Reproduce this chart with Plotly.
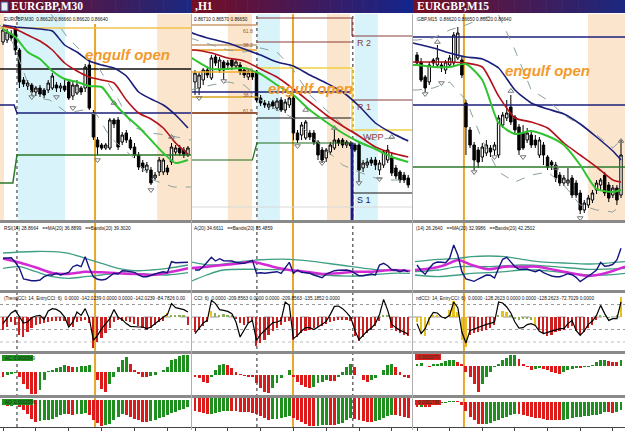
import numpy as np
import plotly.graph_objects as go

W, H = 625, 435

# ======================= DATA =======================
# Candles in MetaTrader points (1 point = 0.00001)
M30_OPEN = [86748,86750,86756,86762,86740,86710,86704,86705,86698,86702,86700,86700,86702,86705,86702,86704,86708,86694,86697,86702,86702,86725,86677,86650,86645,86642,86642,86670,86670,86648,86657,86650,86643,86635,86627,86620,86620,86612,86618,86618,86622,86628,86638,86642,86640,86635]
M30_HIGH = [86764,86761,86760,86764,86742,86713,86710,86707,86704,86705,86702,86710,86717,86708,86707,86710,86710,86708,86710,86704,86726,86730,86680,86653,86647,86647,86672,86672,86673,86658,86660,86653,86647,86638,86630,86628,86623,86618,86633,86632,86625,86647,86645,86645,86643,86644]
M30_LOW = [86745,86747,86749,86735,86702,86703,86700,86695,86694,86693,86692,86697,86700,86698,86698,86698,86690,86690,86695,86695,86698,86680,86650,86635,86640,86640,86640,86662,86640,86645,86647,86640,86632,86620,86618,86617,86605,86610,86614,86615,86615,86625,86635,86634,86632,86633]
M30_CLOSE = [86760,86758,86752,86740,86708,86706,86707,86698,86702,86696,86695,86707,86714,86702,86704,86700,86692,86705,86705,86698,86723,86682,86653,86643,86642,86645,86670,86666,86643,86655,86650,86642,86635,86623,86622,86625,86607,86615,86630,86630,86618,86643,86642,86637,86635,86642]

H1_OPEN = [86748,86742,86750,86760,86752,86773,86760,86768,86767,86770,86764,86765,86760,86753,86757,86758,86732,86727,86723,86728,86722,86730,86720,86725,86732,86697,86695,86692,86697,86697,86688,86680,86672,86678,86682,86690,86690,86685,86687,86685,86685,86662,86665,86670,86670,86660,86665,86670,86672,86662,86658,86655,86652]
H1_HIGH = [86760,86758,86762,86762,86775,86775,86773,86770,86770,86772,86770,86768,86763,86760,86760,86760,86735,86730,86729,86730,86732,86733,86731,86735,86734,86700,86708,86710,86700,86700,86690,86683,86682,86688,86700,86692,86692,86690,86689,86687,86687,86670,86672,86673,86673,86670,86680,86685,86678,86665,86660,86658,86655]
H1_LOW = [86735,86735,86745,86752,86750,86764,86757,86750,86762,86760,86761,86755,86752,86750,86750,86728,86724,86722,86720,86721,86719,86718,86717,86722,86690,86687,86690,86690,86690,86685,86670,86667,86668,86675,86680,86684,86682,86682,86681,86678,86648,86658,86662,86664,86660,86655,86662,86667,86654,86651,86647,86647,86642]
H1_CLOSE = [86757,86755,86760,86755,86772,86767,86770,86760,86765,86764,86768,86758,86755,86757,86753,86730,86727,86725,86726,86724,86729,86720,86728,86732,86697,86690,86705,86708,86693,86688,86675,86670,86680,86685,86690,86687,86685,86688,86684,86680,86660,86667,86668,86667,86665,86667,86678,86680,86657,86654,86650,86650,86645]

M15_OPEN = [86775,86768,86753,86748,86770,86765,86765,86760,86765,86767,86772,86770,86727,86700,86685,86680,86673,86677,86682,86680,86675,86705,86712,86723,86713,86703,86697,86690,86695,86690,86675,86685,86673,86668,86665,86655,86647,86647,86652,86647,86637,86620,86625,86630,86640,86645,86655,86645,86635,86642,86635]
M15_HIGH = [86778,86772,86755,86768,86772,86785,86768,86770,86775,86798,86803,86773,86730,86703,86688,86683,86687,86690,86685,86688,86715,86718,86730,86735,86715,86706,86705,86702,86700,86695,86693,86688,86675,86670,86668,86658,86655,86662,86655,86650,86640,86630,86635,86640,86650,86652,86658,86648,86645,86645,86690]
M15_LOW = [86764,86748,86738,86745,86764,86762,86758,86756,86762,86764,86770,86752,86675,86682,86660,86662,86668,86674,86673,86675,86672,86702,86709,86705,86695,86675,86680,86687,86682,86682,86672,86665,86660,86660,86648,86644,86644,86644,86632,86632,86616,86617,86622,86627,86636,86640,86634,86628,86632,86625,86632]
M15_CLOSE = [86767,86750,86742,86765,86767,86772,86762,86768,86772,86795,86797,86755,86703,86685,86670,86668,86683,86685,86678,86685,86712,86715,86717,86708,86700,86680,86682,86697,86685,86685,86690,86675,86663,86665,86652,86647,86652,86650,86635,86635,86620,86627,86632,86637,86647,86650,86637,86632,86642,86630,86675]

# Moving averages (slow = blue, mid = red, fast = green) sampled at bar index
M30_MA_IDX = [0,3,6,9,12,15,18,21,24,27,30,33,36,39,42,45]
M30_MA_SLOW = [86765,86763,86762,86761,86759,86745,86738,86729,86725,86722,86714,86698,86691,86685,86675,86662]
M30_MA_MID = [86764,86761,86755,86749,86740,86727,86719,86713,86710,86707,86690,86677,86671,86662,86647,86636]
M30_MA_FAST = [86761,86753,86738,86731,86719,86711,86708,86704,86703,86687,86674,86663,86650,86637,86627,86630]
M30_BBU_IDX = [9,12.2,15.6,20.4,23.6,27.7,31.6,35.8,39.9,45.7]
M30_BBU = [86790,86773,86753,86733,86720,86693,86663,86657,86655,86650]
M30_BBL_IDX = [-0.7,2.4,7.3,11.4,15.6,19.5,22.9,26,31.6,36.5,41.4,45.7]
M30_BBL = [86765,86747,86693,86690,86677,86680,86675,86653,86633,86610,86603,86603]

H1_MA_IDX = [-1.2,0,4,8,12,16,20,24,28,32,36,40,44,48,52]
H1_MA_SLOW = [86798,86796,86791,86787,86781,86775,86768,86764,86755,86747,86738,86724,86707,86697,86689]
H1_MA_MID = [86780,86780,86777,86772,86769,86761,86753,86741,86728,86715,86704,86694,86683,86677,86673]
H1_MA_FAST = [86773,86770,86761,86761,86762,86756,86745,86735,86720,86708,86697,86688,86681,86673,86668]
H1_BB_IDX = [-1.2,4,8,12,16,20,24,28,32,36,40,44,48,52]
H1_BBU = [86792,86785,86780,86778,86782,86778,86760,86735,86720,86705,86695,86690,86692,86690]
H1_BBL = [86740,86745,86748,86745,86730,86720,86712,86695,86680,86665,86658,86652,86650,86650]

M15_MA_IDX = [-1,0,4,8,12,16,20,24,28,32,36,40,44,48,50]
M15_MA_SLOW = [86787,86786,86782,86777,86773,86771,86762,86740,86727,86721,86716,86706,86693,86679,86670]
M15_MA_MID = [86768,86768,86768,86768,86767,86763,86734,86712,86708,86702,86687,86675,86663,86650,86648]
M15_MA_FAST = [86765,86765,86763,86763,86766,86750,86707,86696,86699,86694,86685,86665,86641,86638,86640]
M15_BBU = [86790,86790,86792,86800,86805,86812,86815,86780,86740,86730,86715,86705,86695,86682,86690]
M15_BBL = [86740,86740,86742,86748,86730,86690,86658,86648,86655,86658,86645,86625,86620,86618,86625]

# Fractals (bar index, points)
M30_FR_DN = ([7, 13, 17, 23, 36], [86693, 86693, 86682, 86630, 86600])
M30_FR_UP = ([27, 41], [86687, 86653])
H1_FR_DN = ([1, 7, 25, 31, 40, 45], [86732, 86749, 86684, 86667, 86647, 86651])
H1_FR_UP = ([27, 34, 48], [86720, 86702, 86693])
M15_FR_DN = ([2, 6, 14, 19, 26, 40], [86736, 86747, 86658, 86673, 86673, 86612])
M15_FR_UP = ([5, 23, 34, 50], [86788, 86739, 86662, 86689])

# Pivot / fibo levels (points)
M30_LVL_FIBO = 86762
M30_LVL_DAY = 86721
M30_LVL_PP = [86685, 86677]
M30_LVL_S = [86607, 86635]
H1_FIBO = [86805, 86785, 86780, 86758, 86733, 86717]
H1_FIBO_LABELS = ["61.8", "38.2", "", "0.0", "38.2", "61.8"]
H1_DAY_LVLS = [86812, 86788, 86762, 86712, 86687]
H1_NAVY = 86738
H1_GREEN_OLD = 86670
H1_NEW_LVLS = [86794, 86730, 86700, 86637]
H1_NEW_LABELS = ["R 2", "R 1", "WPP", "S 1"]
H1_GRID = 86623
M15_LVLS = [86793, 86725, 86663]

# RSI(14) with MA(20) and bands(20)
M30_RSI = [41.7,41.7,42.3,37.7,31.7,21,20,19.3,19.3,20,23.3,25,25,26.7,25,26.7,27.7,33.3,35,33.3,43.3,31.7,23.3,20.7,20,20.7,24,26.7,26,29.3,29,28.3,27.7,25,23.3,23.3,24.3,26,27.3,28.3,27.3,38.3,37.3,37.3,37,37.7]
M30_RSI_IDX = [0,4,8,12,16,20,24,28,32,36,40,45]
M30_RSI_MA = [41.5,37.5,32.5,27,26,28.3,27.7,26.7,26,25,27.3,31.7]
M30_RSI_BU = [47,48,48.5,48.3,46.7,41.7,36.7,31.7,29.3,30,31.7,35]
M30_RSI_BL = [31.7,33.3,28.3,23.3,21.7,23.3,25,26.7,26.7,25.7,25,27.3]

H1_RSI = [30,30,33.3,38.3,42.7,39,41.3,39.3,39.3,39,37.7,36.7,36.7,38,39.7,26.7,27.3,26.7,27.3,27.7,28.3,26.7,32.7,37.7,26.7,30,27.7,27.3,26.7,25,24,22.3,26,28,29.3,29.7,30,30,29,26.7,24.3,24.3,25,26,25,35,36.7,34.3,30,30,28.3,30,28.3]
H1_RSI_MA_IDX = [-1.2,3,7,11,14,19,23,27,31,35,39,43,48,52.5]
H1_RSI_MA = [31.7,33.3,35,36.7,38.3,33.3,30,28.3,26,26.7,28.3,28.3,30,29]
H1_RSI_BU_IDX = [-1.2,3.7,11,15,23.2,27.2,35.4,43.5,52.4]
H1_RSI_BU = [38.3,35,38.3,40,40.7,39.3,35,30.7,29.3]
H1_RSI_BL_IDX = [-1.2,2.8,6.9,15,23.2,31.3,39.4,47.6,52.4]
H1_RSI_BL = [18.3,25,30,30.7,30,25,24,26.7,26.7]

M15_RSI = [35,29.3,25.7,31.7,36.3,38,37.7,37.3,41.7,55,45,28.3,21,20,18.7,21,23.3,25,24.7,22,31.7,40.7,42.7,37.7,33.3,30.7,31,31,29.3,28.3,30,27.3,25.7,24,23.3,23.3,24.7,26.3,25.3,22.7,18.3,21,24.3,26.7,30,37.7,33.7,34.3,35.7,40,51.7]
M15_RSI_MA_IDX = [-0.5,3.6,6.9,10.1,13.4,17.5,21.6,25.7,29.7,33.8,37.9,42,46.1,51]
M15_RSI_MA = [30,31.7,35,40,35,30.7,33.3,33.3,33.3,30,26.7,24,26.7,33.3]
M15_RSI_B_IDX = [-0.5,5.2,10.1,13.4,17.5,21.6,25.7,29.7,33.8,37.9,42,46.1,51]
M15_RSI_BU = [38.3,40.7,41.7,43.3,44,43.3,40.7,38.3,37.3,36.7,36,36.7,38.3]
M15_RSI_BL = [25,23.3,25,26.7,27.3,28.3,30,30,28.3,26.7,25,25,26.7]
M15_RSI_BM_IDX = [-0.5,5.2,10.1,17.5,25.7,33.8,42,51]
M15_RSI_BM = [28.3,30,33.3,33.3,35,33.3,30.7,31.7]

# TrendCCI(14) line and EntryCCI(6) histogram
M30_CCI = [-53,-13,32,53,5,-48,-40,-5,8,13,-19,48,67,61,40,0,-80,-40,40,13,67,-13,-187,-147,-93,-53,-13,59,0,-21,-53,-75,-80,-80,-80,-93,-80,-53,-27,0,19,107,75,64,59,40]
M30_CCI_HIST = [-107,-80,-40,-60,-140,-160,-120,-90,-60,-55,-50,-40,-35,-30,-30,-35,-60,-80,-40,-30,-25,-45,-250,-200,-170,-130,-90,-40,-25,-30,-30,-40,-55,-75,-90,-100,-85,-60,-40,-30,30,15,20,15,10,-60]
H1_CCI = [-133,-93,-48,-27,133,107,59,53,45,27,-40,-160,-101,-48,-27,-187,-139,-107,-75,-45,-40,-27,120,93,-173,-147,-112,-85,-85,-101,-80,-59,-35,21,85,88,67,35,-5,-107,-181,-147,-112,-88,-53,19,141,53,-59,-85,-107,-120,-139]
H1_CCI_HIST = [-120,-100,-70,-40,50,30,20,25,20,10,-15,-45,-60,-45,-30,-230,-210,-180,-140,-110,-90,-60,-40,-30,-180,-160,-130,-110,-100,-90,-80,-70,-55,-40,-30,-25,-20,-20,-30,-150,-190,-160,-130,-100,-70,-30,15,10,-90,-110,-125,-140,-150]
M15_CCI = [-53,-133,-93,-13,37,32,0,-8,13,120,75,-120,-208,-107,-96,-83,-69,-59,-51,-40,120,112,80,32,-40,-88,-85,-61,-53,-67,-115,-133,-123,-115,-104,-93,-93,-53,-27,-107,-147,-112,-59,-32,13,93,27,-27,-13,-13,120]
M15_CCI_HIST = [-40,-120,-150,-60,20,15,5,-10,60,130,40,-180,-240,-140,-130,-120,-110,-100,-90,-60,20,50,40,10,-10,-20,-15,-10,-20,-60,-100,-130,-150,-140,-120,-110,-105,-90,-70,-110,-140,-120,-90,-60,-20,10,5,-5,0,10,160]
M30_CCI_YELLOW = [40]
M30_CCI_GREEN = [41, 42, 43, 44]
H1_CCI_YELLOW = [4]
H1_CCI_GREEN = [5, 6, 7, 8, 9, 46, 47]
M15_CCI_YELLOW = [0, 1, 2, 3, 4, 5, 8, 9, 10, 11, 12, 21, 22, 29, 50]
M15_CCI_GREEN = [6, 7, 20, 23, 24, 25, 26, 27, 28, 45, 46, 47, 48, 49]

# Accelerator (AC) and Awesome (AO) oscillators, in points
M30_AC = [-5,-3.3,-2.3,-0.5,-5,-11.7,-16.7,-21.7,-22.3,-18.3,-8.3,0.5,2.3,4,5,6.7,5.7,5,5.3,5.7,6.3,6.7,0,-8.3,-16.7,-20,-11.7,-5,5,11.7,15,8.3,1.7,-1.7,-5,-5.3,-4.3,-3.3,0,2.3,5,11.7,13.3,15.7,16.7,16.8]
M30_AO = [-5,-6,-5.5,-5,-7,-10,-14,-19,-21.5,-21,-20,-19.5,-18.5,-17,-15,-13.5,-14,-14.5,-14,-13.5,-13,-15,-20,-23,-25.5,-25,-23.5,-20,-17,-13.5,-15,-16.5,-18.5,-20,-21.5,-22,-21,-20,-18,-16.5,-15,-13,-11.5,-10,-8.5,-7]
H1_AC = [-1.7,-3.3,-6.7,-8.3,-1.7,5,10,11,10,6.7,3.3,1,-1,-1.7,-2.3,-8.3,-13.3,-16.7,-18.3,-13.3,-8.3,-3.3,0,5,-1.7,-6.7,-10,-11.7,-13.3,-11.7,-8.3,-6.7,-5,-5.5,-6,-1.7,3.3,8.3,11,8.3,0,-5,-6.7,-5,-3.3,0,5,10,11,8.3,3.3,-1.7,-3.3]
H1_AO = [-13,-14,-15,-16,-15.5,-15,-14,-13,-12.5,-12.7,-13,-13.3,-13.6,-14,-14.5,-16,-18,-20,-21.5,-21,-20.5,-20,-19,-18,-19.5,-22,-24,-26,-27.5,-28,-27.5,-27,-26.5,-26.8,-27.2,-26,-24.5,-22,-20,-20.5,-21.5,-22.5,-23.5,-24,-23,-21.5,-19.5,-18,-16.5,-17,-18,-19,-20]
M15_AC = [2.3,3,0,-0.3,1.3,2.3,3,5,5.7,5.8,4,1.7,-6,-11,-17.7,-26,-17.7,-11,-6,-1,2.3,5.7,8.3,10.7,11.3,7.3,2.3,-1,-3.7,-2.7,-2,-2.7,-3.7,-6,-7,-7.7,-6,-4.3,-2.7,-1.3,-1.6,-1,-0.3,0.7,4,5.7,6.3,5,4,3.7,5.7]
M15_AO = [-4.7,-4.5,-4.8,-5,-3,-1.5,-0.7,-0.3,0.3,0.5,0.3,-3,-9,-15,-18,-21.5,-22,-21.5,-20.5,-19,-17.5,-16,-14.5,-13,-11.5,-11.8,-12.5,-13.5,-14.5,-15.5,-16.3,-17,-17.5,-18,-18.2,-18.3,-17.5,-16.5,-15.5,-15,-14.8,-14.3,-13.5,-13,-12.5,-11.5,-10,-10.3,-10.5,-9.5,-8]

# Text
TITLES = ["EURGBP,M30", ",H1", "EURGBP,M15"]
PRICE_HDR = ["EURGBP,M30  0.86620 0.86660 0.86620 0.86640", "0.86710 0.86570 0.86650", ":GBP,M15  0.86620 0.86650 0.86620 0.86640"]
RSI_HDR = ["RSI(14) 28.8664   ==MA(20) 36.8899   ==Bands(20) 39.3020", "A(20) 34.6611   ==Bands(20) 35.4859", "(14) 26.2640   ==MA(20) 32.9986   ==Bands(20) 42.2502"]
CCI_HDR = ["(TrendCCI: 14, EntryCCI: 6)  0.0000 -142.0239 0.0000 0.0000 -142.0239 -84.7826 0.00",
           "CCI: 6)  0.0000 -209.8563 0.0000 0.0000 -209.8563 -135.1852 0.0000",
           "ndCCI: 14, EntryCCI: 6)  0.0000 -128.2623 0.0000 0.0000 -128.2623 -72.7029 0.0000"]
SIGNAL_TEXT = "engulf open"

# Sessions / separators / signal bar (bar-index units)
M30_SESS = [(-0.8, 0.24, "o"), (3.65, 15.1, "c"), (37.5, 45.9, "o")]
H1_SESS = [(8.0, 13.9, "o"), (15.1, 20.7, "c"), (32.2, 37.8, "o"), (39.0, 44.6, "c")]
M15_SESS = [(41.9, 51.3, "o")]
M30_DAYSEP = [3.4]
H1_DAYSEP = [15.1, 38.5]
M15_DAYSEP = []
SIGNAL_BAR = [22.4, 23.9, 11.5]

# ======================= LAYOUT / FIGURE =======================
NAVY, RED, LIME = "#1b1f7a", "#b3121b", "#2fc42f"
BANDC = "#8aa09c"
ORANGE_SH, CYAN_SH = "#fbe6cd", "#d8f4fa"
SIG = "#e9a62a"
HDR_FONT = dict(family="Liberation Sans", size=4.7, color="#111")

COLS = [dict(x0=0, x1=191, first=3, step=4.11),
        dict(x0=192, x1=412, first=195, step=4.1),
        dict(x0=413, x1=625, first=417, step=4.08)]
ROWS = [(14, 220), (223, 290), (293, 351), (354, 395), (398, 427)]
YR = [
    [[0.86570, 0.86776], [10, 77], [-272, 192], [-23, 18], [-27, 2]],
    [[0.86610, 0.86816], [10, 77], [-272, 192], [-20, 21], [-29, 0.5]],
    [[0.86610, 0.86816], [10, 77], [-272, 192], [-29, 12], [-25, 4]],
]


def P(a):
    return np.asarray(a, dtype=float) / 1e5


def nm(k, letter):
    return letter if k == 1 else f"{letter}{k}"


def paper_x(x):
    return x / W


def paper_y(y):
    return 1 - y / H


fig = go.Figure()
axes = {}
shapes = []
ann = []

for c, col in enumerate(COLS):
    xr = [(col["x0"] - col["first"]) / col["step"], (col["x1"] - col["first"]) / col["step"]]
    for r, (top, bot) in enumerate(ROWS):
        k = c * 5 + r + 1
        xa = dict(domain=[col["x0"] / W, col["x1"] / W], range=xr, visible=False,
                  fixedrange=True, anchor=nm(k, "y"), showgrid=False, zeroline=False)
        if r == 0:
            xa["rangeslider"] = dict(visible=False)
        if r == 4:
            xa.update(visible=True, showline=True, linecolor="#444", linewidth=1,
                      ticks="outside", ticklen=3, tickcolor="#444", tick0=0, dtick=8,
                      showticklabels=False)
        ya = dict(domain=[1 - bot / H, 1 - top / H], range=YR[c][r], visible=False,
                  fixedrange=True, anchor=nm(k, "x"), showgrid=False, zeroline=False)
        axes["xaxis" if k == 1 else f"xaxis{k}"] = xa
        axes["yaxis" if k == 1 else f"yaxis{k}"] = ya


def add(tr, c, r):
    k = c * 5 + r + 1
    tr.update(xaxis=nm(k, "x"), yaxis=nm(k, "y"), showlegend=False, hoverinfo="skip")
    fig.add_trace(tr)


def hline(c, xs, ys, color, width=1.2, dash="solid"):
    add(go.Scatter(x=xs, y=P(ys), mode="lines", line=dict(color=color, width=width, dash=dash)), c, 0)


DATA = [
    dict(o=M30_OPEN, h=M30_HIGH, l=M30_LOW, cl=M30_CLOSE, mai=M30_MA_IDX,
         ma=[M30_MA_SLOW, M30_MA_MID, M30_MA_FAST],
         bbu=(M30_BBU_IDX, M30_BBU), bbl=(M30_BBL_IDX, M30_BBL),
         frd=M30_FR_DN, fru=M30_FR_UP,
         rsi=M30_RSI, rsima=(M30_RSI_IDX, M30_RSI_MA),
         rsib=[(M30_RSI_IDX, M30_RSI_BU), (M30_RSI_IDX, M30_RSI_BL)],
         cci=M30_CCI, ccih=M30_CCI_HIST, cy=M30_CCI_YELLOW, cg=M30_CCI_GREEN,
         ac=M30_AC, ao=M30_AO, sess=M30_SESS, days=M30_DAYSEP),
    dict(o=H1_OPEN, h=H1_HIGH, l=H1_LOW, cl=H1_CLOSE, mai=H1_MA_IDX,
         ma=[H1_MA_SLOW, H1_MA_MID, H1_MA_FAST],
         bbu=(H1_BB_IDX, H1_BBU), bbl=(H1_BB_IDX, H1_BBL),
         frd=H1_FR_DN, fru=H1_FR_UP,
         rsi=H1_RSI, rsima=(H1_RSI_MA_IDX, H1_RSI_MA),
         rsib=[(H1_RSI_BU_IDX, H1_RSI_BU), (H1_RSI_BL_IDX, H1_RSI_BL)],
         cci=H1_CCI, ccih=H1_CCI_HIST, cy=H1_CCI_YELLOW, cg=H1_CCI_GREEN,
         ac=H1_AC, ao=H1_AO, sess=H1_SESS, days=H1_DAYSEP),
    dict(o=M15_OPEN, h=M15_HIGH, l=M15_LOW, cl=M15_CLOSE, mai=M15_MA_IDX,
         ma=[M15_MA_SLOW, M15_MA_MID, M15_MA_FAST],
         bbu=(M15_MA_IDX, M15_BBU), bbl=(M15_MA_IDX, M15_BBL),
         frd=M15_FR_DN, fru=M15_FR_UP,
         rsi=M15_RSI, rsima=(M15_RSI_MA_IDX, M15_RSI_MA),
         rsib=[(M15_RSI_B_IDX, M15_RSI_BU), (M15_RSI_B_IDX, M15_RSI_BL), (M15_RSI_BM_IDX, M15_RSI_BM)],
         cci=M15_CCI, ccih=M15_CCI_HIST, cy=M15_CCI_YELLOW, cg=M15_CCI_GREEN,
         ac=M15_AC, ao=M15_AO, sess=M15_SESS, days=M15_DAYSEP),
]

for c, D in enumerate(DATA):
    col = COLS[c]
    xr = axes["xaxis" if c == 0 else f"xaxis{c*5+1}"]["range"]
    kp = c * 5 + 1
    n = len(D["o"])
    idx = np.arange(n)
    for (a, b, t) in D["sess"]:
        shapes.append(dict(type="rect", xref=nm(kp, "x"), yref=nm(kp, "y") + " domain",
                           x0=a, x1=b, y0=0, y1=1, fillcolor=ORANGE_SH if t == "o" else CYAN_SH,
                           line=dict(width=0), layer="below"))
    for d in D["days"]:
        shapes.append(dict(type="line", xref=nm(kp, "x"), yref="paper", x0=d, x1=d,
                           y0=paper_y(427), y1=paper_y(14), line=dict(color="#222", width=1, dash="dot"),
                           layer="below"))
    shapes.append(dict(type="line", xref=nm(kp, "x"), yref="paper", x0=SIGNAL_BAR[c], x1=SIGNAL_BAR[c],
                       y0=paper_y(427), y1=paper_y(24 if c == 0 else 14),
                       line=dict(color=SIG, width=2), layer="below"))

    # ---- levels ----
    if c == 0:
        hline(c, [xr[0], xr[1]], [M30_LVL_FIBO] * 2, "#f2c24a", 1.3)
        hline(c, [xr[0], xr[1]], [M30_LVL_DAY] * 2, "#111", 1.3)
        hline(c, [xr[0], 2.7, 3.4, xr[1]], [M30_LVL_PP[0]] * 2 + [M30_LVL_PP[1]] * 2, NAVY, 1.5)
        hline(c, [xr[0], 2.4, 3.4, xr[1]], [M30_LVL_S[0]] * 2 + [M30_LVL_S[1]] * 2, "#2a7a2a", 1.5)
    elif c == 1:
        fib_cols = ["#c99a6c", "#c99a6c", "#f0a020", "#f0b030", "#d9a520", "#9a5a3a"]
        for lv, fc in zip(H1_FIBO, fib_cols):
            hline(c, [xr[0], 15.1], [lv, lv], fc, 1.3 if fc != "#9a5a3a" else 2)
        day_cols = ["#8c3c3c", "#8c3c3c", "#f2d040", "#111", "#1f6a1f"]
        for lv, dc in zip(H1_DAY_LVLS, day_cols):
            hline(c, [15.1, 38.3], [lv, lv], dc, 1.5 if dc == "#f2d040" else 1.2)
        hline(c, [xr[0], 37.8], [H1_NAVY] * 2, NAVY, 1.5)
        hline(c, [xr[0], 14.0, 15.1], [H1_GREEN_OLD, H1_GREEN_OLD, H1_DAY_LVLS[4]], "#1f6a1f", 1.2)
        new_cols = ["#8c3c3c", "#8c3c3c", "#f2d040", "#111"]
        for lv, dc in zip(H1_NEW_LVLS, new_cols):
            hline(c, [38.3, xr[1]], [lv, lv], dc, 1.5 if dc == "#f2d040" else 1.2)
        hline(c, [38.3, 38.3], [H1_DAY_LVLS[0], H1_NEW_LVLS[0]], "#8c3c3c", 1.2)
        hline(c, [38.3, 38.3], [H1_DAY_LVLS[2], H1_NEW_LVLS[2]], "#f2d040", 1.5)
        hline(c, [38.3, 38.3], [H1_DAY_LVLS[4], 86600], "#1a1a80", 3)
        hline(c, [xr[0], xr[1]], [H1_GRID] * 2, "#d8d8d8", 1)
    else:
        for lv, lc in zip(M15_LVLS, [NAVY, NAVY, "#2a7a2a"]):
            hline(c, [xr[0], xr[1]], [lv, lv], lc, 1.4)

    add(go.Scatter(x=D["bbu"][0], y=P(D["bbu"][1]), mode="lines",
                   line=dict(color=BANDC, width=1, dash="dash")), c, 0)
    add(go.Scatter(x=D["bbl"][0], y=P(D["bbl"][1]), mode="lines",
                   line=dict(color=BANDC, width=1, dash="dash")), c, 0)
    add(go.Candlestick(x=idx, open=P(D["o"]), high=P(D["h"]), low=P(D["l"]), close=P(D["cl"]),
                       increasing=dict(line=dict(color="#000", width=1), fillcolor="#ffffff"),
                       decreasing=dict(line=dict(color="#000", width=1), fillcolor="#000000"),
                       whiskerwidth=0), c, 0)
    for arr, colr, wd in zip(D["ma"], [NAVY, RED, LIME], [1.6, 1.6, 2]):
        add(go.Scatter(x=D["mai"], y=P(arr), mode="lines",
                       line=dict(color=colr, width=wd, shape="spline", smoothing=0.6)), c, 0)
    # fractal arrows
    add(go.Scatter(x=D["frd"][0], y=P(D["frd"][1]), mode="markers",
                   marker=dict(symbol="triangle-down-open", size=5, color="#777", line=dict(width=1))), c, 0)
    add(go.Scatter(x=D["fru"][0], y=P(D["fru"][1]), mode="markers",
                   marker=dict(symbol="triangle-up-open", size=5, color="#777", line=dict(width=1))), c, 0)

    # ---- RSI ----
    for bi, bv in D["rsib"]:
        add(go.Scatter(x=bi, y=bv, mode="lines",
                       line=dict(color="#3f9f84", width=1.3, shape="spline", smoothing=0.8)), c, 1)
    add(go.Scatter(x=D["rsima"][0], y=D["rsima"][1], mode="lines",
                   line=dict(color="#d42ad4", width=2.5, shape="spline", smoothing=0.6)), c, 1)
    add(go.Scatter(x=idx, y=D["rsi"], mode="lines", line=dict(color="#15157f", width=1.4)), c, 1)

    # ---- CCI ----
    kc = c * 5 + 3
    for lv, ds, colr in [(100, "dot", "#9a9a9a"), (0, "dash", "#9a9a9a"), (-100, "dot", "#9a9a9a"), (-200, "dot", "#c0c0c0")]:
        shapes.append(dict(type="line", xref=nm(kc, "x") + " domain", yref=nm(kc, "y"),
                           x0=0, x1=1, y0=lv, y1=lv, line=dict(color=colr, width=1, dash=ds), layer="below"))
    hcol = []
    for i in range(n):
        if i in D["cy"]:
            hcol.append("#e8c21c")
        elif i in D["cg"]:
            hcol.append("#8fae5a")
        else:
            hcol.append("#cc2020")
    add(go.Bar(x=idx, y=D["ccih"], width=0.42, marker=dict(color=hcol, line=dict(width=0))), c, 2)
    add(go.Scatter(x=idx, y=D["cci"], mode="lines", line=dict(color="#000", width=1.2)), c, 2)

    # ---- AC / AO ----
    for r, key in [(3, "ac"), (4, "ao")]:
        v = D[key]
        colors = []
        for i in range(n):
            up = v[i] >= v[i - 1] if i > 0 else v[0] >= 0
            colors.append("#1e8f1e" if up else "#dd1a1a")
        add(go.Bar(x=idx, y=v, width=0.72, marker=dict(color=colors, line=dict(width=0))), c, r)

    # ---- title bar gradient ----
    x0, x1 = col["x0"], col["x1"] + 1
    c0 = np.array([118, 14, 36])
    c1 = np.array([20, 38, 140]) if c == 1 else np.array([28, 40, 128])
    N = 40
    for s in range(N):
        t = s / (N - 1)
        cc = (c0 * (1 - t) + c1 * t).astype(int)
        xa0 = x0 + (x1 - x0) * s / N
        xa1 = x0 + (x1 - x0) * (s + 1) / N
        shapes.append(dict(type="rect", xref="paper", yref="paper", x0=paper_x(xa0), x1=paper_x(xa1) + 0.001,
                           y0=paper_y(13), y1=paper_y(0), fillcolor=f"rgb({cc[0]},{cc[1]},{cc[2]})",
                           line=dict(width=0), layer="above"))
    tx = {0: 9, 1: 193, 2: 415}[c]
    ann.append(dict(xref="paper", yref="paper", x=paper_x(tx), y=paper_y(6.5), xanchor="left", yanchor="middle",
                    text=f"<b>{TITLES[c]}</b>", showarrow=False,
                    font=dict(family="Liberation Serif", size=11.5, color="white")))
    for (ya, yb) in [(220, 223), (290, 293), (351, 354), (395, 398)]:
        shapes.append(dict(type="rect", xref="paper", yref="paper", x0=paper_x(col["x0"]), x1=paper_x(col["x1"]),
                           y0=paper_y(yb), y1=paper_y(ya), fillcolor="#8a8a8a", line=dict(width=0), layer="above"))
    hx = {0: 2, 1: 192, 2: 414}[c]
    for txt, yy in [(PRICE_HDR[c], 19.5), (RSI_HDR[c], 228), (CCI_HDR[c], 298)]:
        ann.append(dict(xref="paper", yref="paper", x=paper_x(hx), y=paper_y(yy), xanchor="left", yanchor="middle",
                        text=txt, showarrow=False, font=HDR_FONT))
    ex, ey = [(127, 55), (310, 88), (547, 70)][c]
    ann.append(dict(xref="paper", yref="paper", x=paper_x(ex), y=paper_y(ey), xanchor="center", yanchor="middle",
                    text=SIGNAL_TEXT, showarrow=False,
                    font=dict(family="Liberation Sans", size=15, color="#f29a2a", weight="bold", style="italic")))

for xs in [191.5, 412.5]:
    shapes.append(dict(type="line", xref="paper", yref="paper", x0=paper_x(xs), x1=paper_x(xs),
                       y0=paper_y(430), y1=paper_y(14), line=dict(color="#b0b0b0", width=1), layer="above"))

for (bx0, bx1, by0, by1, fc, t) in [(2, 33, 355, 361, "#1f8f1f", "AC: 0.0000549"),
                                     (2, 33, 399, 405, "#1f8f1f", "AO: 0.0002096"),
                                     (415, 441, 354, 360, "#e02020", "0.0000070"),
                                     (415, 441, 400, 405, "#e02020", "0.0001795")]:
    shapes.append(dict(type="rect", xref="paper", yref="paper", x0=paper_x(bx0), x1=paper_x(bx1),
                       y0=paper_y(by1), y1=paper_y(by0), fillcolor=fc, line=dict(width=0), layer="above"))
    ann.append(dict(xref="paper", yref="paper", x=paper_x(bx0 + 1), y=paper_y((by0 + by1) / 2), xanchor="left",
                    yanchor="middle", text=t, showarrow=False,
                    font=dict(family="Liberation Sans", size=4.5, color="#103010")))

shapes.append(dict(type="rect", xref="paper", yref="paper", x0=paper_x(1), x1=paper_x(8), y0=paper_y(11), y1=paper_y(2),
                   fillcolor="#e8eef8", line=dict(color="#3050a0", width=1), layer="above"))

# fibo labels (H1, left part) just beside their lines
FIB_LABEL_Y = [31, 45, None, 70, 95, 111]
for lb, yy in zip(H1_FIBO_LABELS, FIB_LABEL_Y):
    if lb:
        ann.append(dict(xref="paper", yref="paper", x=paper_x(255), y=paper_y(yy), xanchor="right",
                        yanchor="middle", text=lb, showarrow=False,
                        font=dict(family="Liberation Sans", size=5, color="#8a5a3a")))
for lv, lb in zip(H1_NEW_LVLS, H1_NEW_LABELS):
    ann.append(dict(xref="x6", yref="y6", x=39.0 if lb != "WPP" else 40.5, y=lv / 1e5, xanchor="left",
                    yanchor="top", text=lb, showarrow=False,
                    font=dict(family="Liberation Sans", size=9, color="#8c3c3c" if lb != "S 1" else "#1a1a50")))

fig.update_layout(
    width=W, height=H, margin=dict(l=0, r=0, t=0, b=0),
    paper_bgcolor="white", plot_bgcolor="rgba(0,0,0,0)",
    showlegend=False, barmode="overlay", bargap=0, boxgap=0.15,
    shapes=shapes, annotations=ann, **axes,
)
fig.write_html("out.html")
